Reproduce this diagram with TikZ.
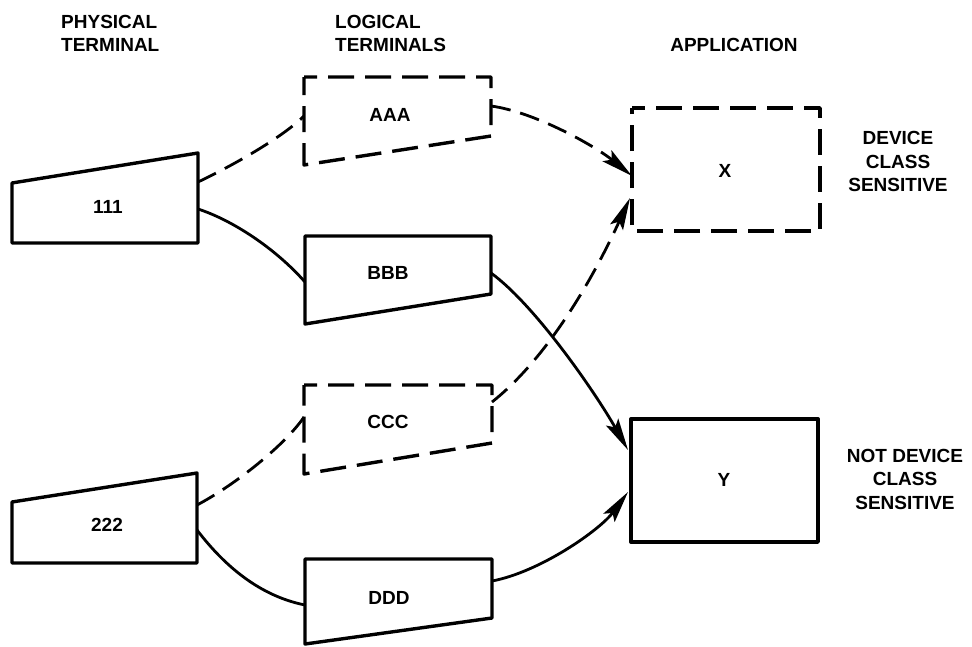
\documentclass[tikz,border=0pt]{standalone}
\usepackage{fontspec}
\setmainfont{Liberation Sans}
\usetikzlibrary{arrows.meta}
\begin{document}
\begin{tikzpicture}[x=1pt,y=-1pt,
  boxline/.style={line width=3.4pt, line join=round},
  dashbox/.style={boxline, dash pattern=on 26pt off 11pt, dash phase=13pt},
  conn/.style={line width=2.8pt},
  dconn/.style={conn, dash pattern=on 20pt off 10pt},
  arr/.style={-{Stealth[length=32pt,width=14pt,inset=6pt]}},
  lbl/.style={font=\fontsize{19}{23.5}\selectfont\bfseries, inner sep=0pt},
]
\fill[white] (0,0) rectangle (972,646);
\useasboundingbox (0,0) rectangle (972,646);

% headings
\node[lbl, align=left, anchor=west] (hphys) at (61,33.5) {PHYSICAL\\TERMINAL};
\node[lbl, align=left, anchor=west] (hlog) at (335,33.5) {LOGICAL\\TERMINALS};
\node[lbl] (happ) at (734,45) {APPLICATION};
\node[lbl, align=center] (hdcs) at (898,161.5) {DEVICE\\CLASS\\SENSITIVE};
\node[lbl, align=center] (hndcs) at (905,479) {NOT DEVICE\\CLASS\\SENSITIVE};

% physical terminals
\draw[boxline] (12,183) -- (198,153) -- (198,243) -- (12,243) -- cycle;
\node[lbl] (t111) at (108,207) {111};
\draw[boxline] (12,502) -- (197,473) -- (197,563) -- (12,563) -- cycle;
\node[lbl] (t222) at (107,525) {222};

% logical terminals
\draw[dashbox] (304,77) -- (491,77) -- (491,136) -- (304,165) -- cycle;
\node[lbl] (tAAA) at (390,115) {AAA};
\draw[boxline] (305,236) -- (491,236) -- (491,294) -- (305,324) -- cycle;
\node[lbl] (tBBB) at (388,273) {BBB};
\draw[dashbox] (304,385) -- (492,385) -- (492,443) -- (304,474) -- cycle;
\node[lbl] (tCCC) at (388,422) {CCC};
\draw[boxline] (305,559) -- (492,559) -- (492,618) -- (305,644) -- cycle;
\node[lbl] (tDDD) at (389,598) {DDD};

% applications
\draw[dashbox] (632,108) -- (820,108) -- (820,231) -- (632,231) -- cycle;
\node[lbl] (tX) at (725,171) {X};
\draw[boxline] (631,419) rectangle (818,542);
\node[lbl] (tY) at (724,480) {Y};

% connector end points
\coordinate (p1a) at (198,182);
\coordinate (p1b) at (198,209);
\coordinate (p2a) at (197,505);
\coordinate (p2b) at (197,530);
\coordinate (aL) at (304,116);
\coordinate (aR) at (491,106);
\coordinate (bL) at (305,282);
\coordinate (bR) at (491,273);
\coordinate (cL) at (304,417);
\coordinate (cR) at (492,402);
\coordinate (dL) at (305,605);
\coordinate (dR) at (492,581);
\coordinate (xin1) at (632,176);
\coordinate (xin2) at (630,198);
\coordinate (yin1) at (628,450);
\coordinate (yin2) at (628,492);

% connectors
\draw[dconn] (p1a) .. controls (240,162) and (285,135) .. (aL);
\draw[conn] (p1b) .. controls (232,220) and (275,248) .. (bL);
\draw[dconn] (p2a) .. controls (235,485) and (285,445) .. (cL);
\draw[conn] (p2b) .. controls (220,560) and (255,595) .. (dL);
\draw[dconn, arr] (aR) .. controls (535,112) and (595,146) .. (xin1);
\draw[dconn, arr] (cR) .. controls (545,360) and (590,285) .. (xin2);
\draw[conn, arr] (bR) .. controls (535,305) and (595,392) .. (yin1);
\draw[conn, arr] (dR) .. controls (540,572) and (600,530) .. (yin2);
\end{tikzpicture}
\end{document}
